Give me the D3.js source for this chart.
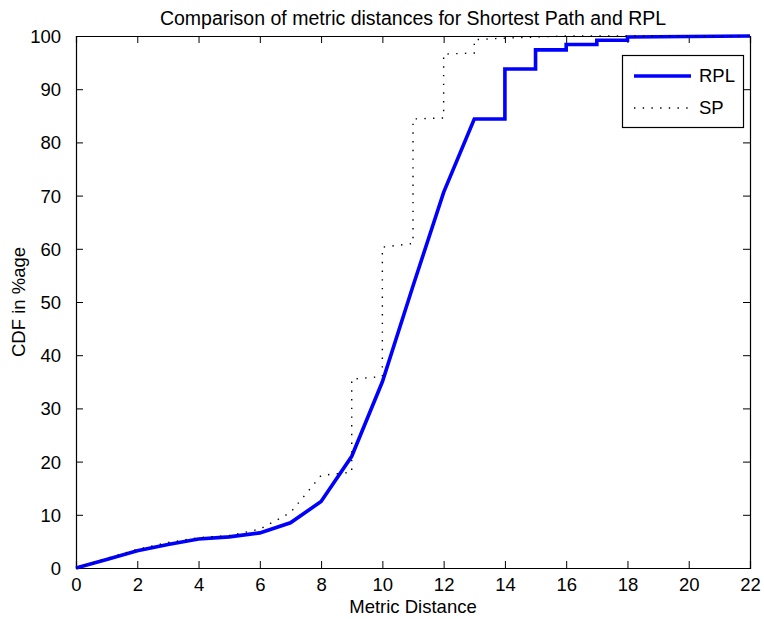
<!DOCTYPE html>
<html>
<head>
<meta charset="utf-8">
<script src="https://cdn.jsdelivr.net/npm/d3@7"></script>
<style>
  html, body { margin: 0; padding: 0; background: #fff; }
  text { font-family: "Liberation Sans", Arial, Helvetica, sans-serif; fill: #000; }
</style>
</head>
<body>
<svg id="chart" width="764" height="619"></svg>
<script>
// ---- data ----
const titleText = "Comparison of metric distances for Shortest Path and RPL";
const xLabel = "Metric Distance";
const yLabel = "CDF in %age";
const xTicks = [0, 2, 4, 6, 8, 10, 12, 14, 16, 18, 20, 22];
const yTicks = [0, 10, 20, 30, 40, 50, 60, 70, 80, 90, 100];
const seriesNames = ["RPL", "SP"];

const rplX = [0, 1, 2, 3, 4, 5, 6, 7, 8, 9, 10, 11, 12, 13, 14, 14, 15, 15, 16, 16, 17, 17, 18, 18, 22];
const rplY = [0, 1.6, 3.25, 4.4, 5.45, 5.85, 6.6, 8.5, 12.5, 21, 35, 53, 70.6, 84.4, 84.4, 93.8, 93.8, 97.4, 97.4, 98.4, 98.4, 99.2, 99.2, 99.8, 100];

const spX = [0, 1, 2, 3, 4, 5, 6, 7, 8, 9, 9, 10, 10, 11, 11, 12, 12, 13, 13, 14, 15, 16, 22];
const spY = [0, 1.8, 3.5, 4.8, 5.7, 6.1, 7.3, 10.4, 17.4, 18, 35.5, 36, 60.3, 61, 84.4, 84.6, 96.6, 96.8, 99.3, 99.6, 99.8, 100, 100];

// ---- layout ----
const svg = d3.select("#chart");
const pLeft = 76, pRight = 750, pTop = 36, pBottom = 568;
const fs = 18.5;

const x = d3.scaleLinear().domain([0, 22]).range([pLeft, pRight]);
const y = d3.scaleLinear().domain([0, 100]).range([pBottom, pTop]);

const tickLen = 7;
const g = svg.append("g");

const xAxisB = d3.axisBottom(x).tickValues(xTicks).tickSize(-tickLen).tickPadding(tickLen + 5).tickFormat(d3.format("d"));
const gxb = g.append("g").attr("transform", `translate(0,${pBottom})`).call(xAxisB);
const xAxisT = d3.axisTop(x).tickValues(xTicks).tickSize(-tickLen).tickFormat("");
const gxt = g.append("g").attr("transform", `translate(0,${pTop})`).call(xAxisT);
const yAxisL = d3.axisLeft(y).tickValues(yTicks).tickSize(-tickLen).tickPadding(tickLen + 8).tickFormat(d3.format("d"));
const gyl = g.append("g").attr("transform", `translate(${pLeft},0)`).call(yAxisL);
const yAxisR = d3.axisRight(y).tickValues(yTicks).tickSize(-tickLen).tickFormat("");
const gyr = g.append("g").attr("transform", `translate(${pRight},0)`).call(yAxisR);

[gxb, gxt, gyl, gyr].forEach(a => {
  a.selectAll("path.domain").attr("stroke", "#000").attr("stroke-width", 1.2);
  a.selectAll(".tick line").attr("stroke", "#000").attr("stroke-width", 1);
  a.selectAll(".tick text").attr("font-size", fs).attr("font-family", '"Liberation Sans", Arial, sans-serif').attr("fill", "#000");
});
gxb.selectAll(".tick text").attr("dy", "0.6em");
gyl.selectAll(".tick text").attr("dy", "0.35em");

// lines
const line = d3.line().x(d => x(d[0])).y(d => y(d[1]));
const rplPts = rplX.map((v, i) => [v, rplY[i]]);
const spPts = spX.map((v, i) => [v, spY[i]]);

svg.append("path").datum(rplPts).attr("d", line)
  .attr("fill", "none").attr("stroke", "#0000ff").attr("stroke-width", 3.6)
  .attr("stroke-linejoin", "miter");
svg.append("path").datum(spPts).attr("d", line)
  .attr("fill", "none").attr("stroke", "#000").attr("stroke-width", 1.4)
  .attr("stroke-dasharray", "1.4,7.3");

// title & labels
svg.append("text").attr("x", (pLeft + pRight) / 2).attr("y", 24.5)
  .attr("text-anchor", "middle").attr("font-size", 19.5).text(titleText);
svg.append("text").attr("x", (pLeft + pRight) / 2).attr("y", 613)
  .attr("text-anchor", "middle").attr("font-size", fs).text(xLabel);
svg.append("text").attr("transform", `translate(25,${(pTop + pBottom) / 2}) rotate(-90)`)
  .attr("text-anchor", "middle").attr("font-size", fs).text(yLabel);

// legend
const lg = svg.append("g");
lg.append("rect").attr("x", 622.5).attr("y", 55.5).attr("width", 121).attr("height", 72)
  .attr("fill", "#fff").attr("stroke", "#000").attr("stroke-width", 1.2);
const legY = [76, 108];
lg.append("line").attr("x1", 634).attr("x2", 691).attr("y1", legY[0]).attr("y2", legY[0])
  .attr("stroke", "#0000ff").attr("stroke-width", 3.6);
lg.append("line").attr("x1", 634).attr("x2", 691).attr("y1", legY[1]).attr("y2", legY[1])
  .attr("stroke", "#000").attr("stroke-width", 1.4).attr("stroke-dasharray", "1.4,7.3");
seriesNames.forEach((n, i) => {
  lg.append("text").attr("x", 699).attr("y", legY[i]).attr("dy", "0.35em")
    .attr("font-size", fs).text(n);
});
</script>
</body>
</html>
